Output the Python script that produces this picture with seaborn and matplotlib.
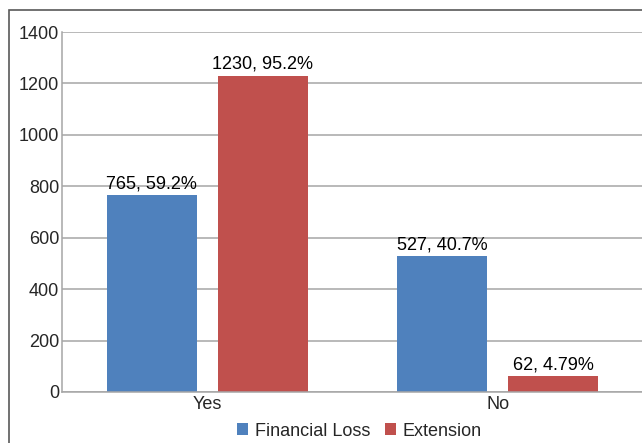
import matplotlib
matplotlib.use("Agg")
import matplotlib.pyplot as plt
import seaborn as sns
import pandas as pd
from matplotlib.patches import Rectangle, Patch

categories = ["Yes", "No"]
series_names = ["Financial Loss", "Extension"]
financial_loss = [765, 527]
extension = [1230, 62]
financial_labels = ["765, 59.2%", "527, 40.7%"]
extension_labels = ["1230, 95.2%", "62, 4.79%"]
yticks = [0, 200, 400, 600, 800, 1000, 1200, 1400]
colors = ["#4F81BD", "#C0504D"]

df = pd.DataFrame({
    "Response": categories * 2,
    "Count": financial_loss + extension,
    "Series": [series_names[0]] * 2 + [series_names[1]] * 2,
})

sns.set_style("white")
plt.rcParams["font.family"] = ["Liberation Sans", "DejaVu Sans"]
FS = 13

fig = plt.figure(figsize=(6.42, 4.43), dpi=100)
ax = fig.add_axes([62 / 642, 51 / 443, (643 - 62) / 642, 360 / 443])

sns.barplot(data=df, x="Response", y="Count", hue="Series", palette=colors,
            width=0.763, gap=0.19, ax=ax, legend=False, saturation=1,
            linewidth=0)

ax.set_ylim(0, 1400)
ax.set_xlim(-0.5, 1.5)
ax.set_yticks(yticks)
ax.set_yticklabels([str(v) for v in yticks], fontsize=FS)
ax.tick_params(axis="x", length=0, pad=3, labelsize=FS)
ax.tick_params(axis="y", length=0, pad=2)
ax.set_xlabel("")
ax.set_ylabel("")
ax.yaxis.grid(True, color="#a6a6a6", linewidth=1.1)
ax.set_axisbelow(True)
for s in ["top", "right"]:
    ax.spines[s].set_visible(False)
for s in ["left", "bottom"]:
    ax.spines[s].set_color("#a6a6a6")
    ax.spines[s].set_linewidth(1.1)

for cont, labs in zip(ax.containers, [financial_labels, extension_labels]):
    ax.bar_label(cont, labels=labs, padding=2, fontsize=FS, color="black")

handles = [Patch(facecolor=c, edgecolor="none") for c in colors]
fig.legend(handles, series_names, loc="center", bbox_to_anchor=(0.56, 12 / 443),
           ncol=2, frameon=False, fontsize=FS, handlelength=0.6, handleheight=0.6,
           handletextpad=0.4, columnspacing=0.8)

fig.patches.append(Rectangle((9 / 642, -0.05), 1.1, 1 - 10 / 443 + 0.05,
                             transform=fig.transFigure, fill=False,
                             edgecolor="#595959", linewidth=1.2))

fig.savefig("out.png", dpi=100)
